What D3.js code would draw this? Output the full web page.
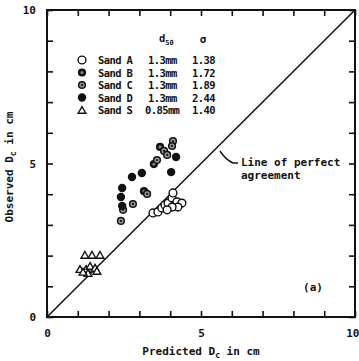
<!DOCTYPE html>
<html><head><meta charset="utf-8">
<script src="https://cdn.jsdelivr.net/npm/d3@7"></script>
<style>
body{margin:0;background:#fff;}
text{font-family:"DejaVu Sans Mono",monospace;font-weight:bold;fill:#111;}
</style></head>
<body><svg id="c" width="359" height="361"></svg>
<script>
const tickValues = [0,1,2,3,4,5,6,7,8,9,10];
const tickLabels = {0:"0",5:"5",10:"10"};
const legendNames = ["Sand A","Sand B","Sand C","Sand D","Sand S"];
const legendD50 = ["1.3mm","1.3mm","1.3mm","1.3mm","0.85mm"];
const legendSigma = ["1.38","1.72","1.89","2.44","1.40"];
const sandA = [[3.44,3.39],[3.60,3.42],[3.73,3.55],[3.83,3.65],[3.93,3.71],[4.06,3.88],[4.09,4.04],[4.22,3.75],[4.38,3.71],[4.25,3.58],[4.06,3.58],[3.90,3.49]];
const sandB = [[3.67,5.54],[3.47,4.98],[3.15,4.10]];
const sandC = [[4.09,5.73],[4.06,5.57],[3.80,5.41],[3.90,5.28],[3.57,5.11],[2.47,3.49],[2.40,3.13],[2.79,3.68],[3.25,4.01]];
const sandD = [[4.19,5.21],[4.03,4.72],[3.08,4.69],[2.76,4.56],[2.44,4.20],[2.40,3.91],[2.44,3.62]];
const sandS = [[1.23,2.02],[1.46,2.02],[1.72,2.02],[1.07,1.56],[1.27,1.56],[1.40,1.66],[1.56,1.60],[1.62,1.50],[1.33,1.43],[1.17,1.47]];
const perfectLine = [[0,0],[10,10]];

const svg = d3.select("#c");
const x = d3.scaleLinear().domain([0,10]).range([47,355]);
const y = d3.scaleLinear().domain([0,10]).range([317,10]);
const fmt = d => tickLabels[d] || "";

function styleAxis(g){
  g.select(".domain").remove();
  g.selectAll(".tick line").attr("stroke","#111").attr("stroke-width",1.6);
  g.selectAll("text").attr("font-size","11px").attr("font-family","DejaVu Sans Mono").attr("font-weight","bold").attr("fill","#111");
}
const xAxisG = svg.append("g").attr("transform",`translate(0,${y(0)})`)
  .call(d3.axisBottom(x).tickValues(tickValues).tickFormat(fmt).tickSizeInner(-6).tickSizeOuter(0).tickPadding(12)).call(styleAxis);
xAxisG.selectAll(".tick text").filter(d=>d===10).attr("text-anchor","end").attr("dx","4");
svg.append("g").attr("transform",`translate(${x(0)},0)`)
  .call(d3.axisLeft(y).tickValues(tickValues).tickFormat(fmt).tickSizeInner(-6).tickSizeOuter(0).tickPadding(11)).call(styleAxis);
svg.append("g").attr("transform",`translate(0,${y(10)})`)
  .call(d3.axisTop(x).tickValues(tickValues).tickFormat("").tickSizeInner(-6).tickSizeOuter(0)).call(styleAxis);
svg.append("g").attr("transform",`translate(${x(10)},0)`)
  .call(d3.axisRight(y).tickValues(tickValues).tickFormat("").tickSizeInner(-6).tickSizeOuter(0)).call(styleAxis);

svg.append("rect").attr("x",x(0)).attr("y",y(10)).attr("width",x(10)-x(0)).attr("height",y(0)-y(10))
  .attr("fill","none").attr("stroke","#111").attr("stroke-width",2);

svg.append("path").datum(perfectLine).attr("d",d3.line().x(d=>x(d[0])).y(d=>y(d[1])))
  .attr("stroke","#111").attr("stroke-width",1.5).attr("fill","none");

function drawMarker(g, type){
  if(type==="A"){
    g.append("circle").attr("r",3.9).attr("fill","#fff").attr("stroke","#111").attr("stroke-width",1.4);
  } else if(type==="B"){
    g.append("circle").attr("r",4.1).attr("fill","#111");
    g.append("circle").attr("r",1.6).attr("fill","#888");
  } else if(type==="C"){
    g.append("circle").attr("r",4.1).attr("fill","#111");
    g.append("circle").attr("r",2.6).attr("fill","#999");
    g.append("circle").attr("r",1.2).attr("fill","#222");
  } else if(type==="D"){
    g.append("circle").attr("r",4.2).attr("fill","#111");
  } else {
    g.append("path").attr("d",d3.symbol(d3.symbolTriangle,26)()).attr("transform","translate(0,1)")
      .attr("fill","#fff").attr("stroke","#111").attr("stroke-width",1.4);
  }
}
const sets = [["A",sandA],["B",sandB],["C",sandC],["D",sandD],["S",sandS]];
sets.forEach(([t,data])=>{
  svg.append("g").selectAll("g").data(data).join("g")
    .attr("transform",d=>`translate(${x(d[0])},${y(d[1])})`)
    .each(function(){drawMarker(d3.select(this),t);});
});

// legend
const lg = svg.append("g");
const hdr = lg.append("text").attr("x",159).attr("y",42).attr("font-size","10.5px");
hdr.append("tspan").text("d");
hdr.append("tspan").attr("font-size","7px").attr("dy",3).text("50");
lg.append("text").attr("x",203).attr("y",43).attr("font-size","11px").attr("text-anchor","middle").text("σ");
const types = ["A","B","C","D","S"];
types.forEach((t,i)=>{
  const cy = 60 + i*12.5;
  drawMarker(lg.append("g").attr("transform",`translate(82,${cy})`), t);
  lg.append("text").attr("x",98).attr("y",cy+4).attr("font-size","10.5px").attr("letter-spacing","-0.6").text(legendNames[i]);
  lg.append("text").attr("x",i===4?145:148).attr("y",cy+4).attr("font-size","10.5px").attr("letter-spacing","-0.6").text(legendD50[i]);
  lg.append("text").attr("x",192).attr("y",cy+4).attr("font-size","10.5px").attr("letter-spacing","-0.6").text(legendSigma[i]);
});

// annotation
svg.append("path").attr("d","M220,151 Q226,160 233,163 L238,163").attr("fill","none").attr("stroke","#111").attr("stroke-width",1.4);
svg.append("text").attr("x",241).attr("y",166).attr("font-size","11px").text("Line of perfect");
svg.append("text").attr("x",241).attr("y",179).attr("font-size","11px").text("agreement");
svg.append("text").attr("x",313).attr("y",291).attr("font-size","11px").attr("text-anchor","middle").text("(a)");

// axis titles
const xt = svg.append("text").attr("x",201).attr("y",355).attr("font-size","11px").attr("text-anchor","middle");
xt.append("tspan").text("Predicted D");
xt.append("tspan").attr("font-size","8px").attr("dy",3).text("c");
xt.append("tspan").attr("dy",-3).text(" in cm");
const yt = svg.append("text").attr("transform","translate(13,167) rotate(-90)").attr("font-size","11px").attr("text-anchor","middle");
yt.append("tspan").text("Observed D");
yt.append("tspan").attr("font-size","8px").attr("dy",3).text("c");
yt.append("tspan").attr("dy",-3).text(" in cm");
</script></body></html>
